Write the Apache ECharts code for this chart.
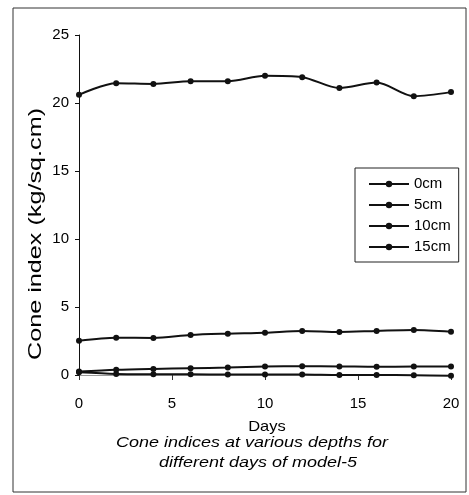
<!DOCTYPE html>
<html>
<head>
<meta charset="utf-8">
<script src="https://cdn.jsdelivr.net/npm/echarts@6/dist/echarts.min.js"></script>
<style>
  html, body { margin: 0; padding: 0; background: #fff; }
  #chart { width: 469px; height: 495px; }
</style>
</head>
<body>
<div id="chart"></div>
<script>
'use strict';

// days of measurement
var days = [0, 2, 4, 6, 8, 10, 12, 14, 16, 18, 20];

// cone index values (kg/sq.cm)
var names = ['0cm', '5cm', '10cm', '15cm'];
var cm0 = [0.2, 0.08, 0.06, 0.05, 0.04, 0.04, 0.04, 0.0, 0.0, -0.02, -0.06];
var cm5 = [0.25, 0.38, 0.45, 0.5, 0.55, 0.62, 0.64, 0.63, 0.6, 0.62, 0.62];
var cm10 = [2.52, 2.74, 2.72, 2.94, 3.04, 3.11, 3.24, 3.16, 3.24, 3.31, 3.18];
var cm15 = [20.6, 21.45, 21.4, 21.6, 21.6, 22.0, 21.9, 21.1, 21.5, 20.5, 20.8];

var yTicks = [0, 5, 10, 15, 20, 25];
var xTicks = [0, 5, 10, 15, 20];

var chart = echarts.init(document.getElementById('chart'));

// 拼数据
var allValues = [cm0, cm5, cm10, cm15];
var series = [];
for (var i = 0; i < names.length; i++) {
	var data = [];
	for (var j = 0; j < days.length; j++) {
		data.push([days[j], allValues[i][j]]);
	}
	series.push({
		name: names[i],
		type: 'line',
		smooth: 0.3,
		clip: false,
		symbol: 'circle',
		symbolSize: 6,
		lineStyle: { color: '#111', width: 2 },
		itemStyle: { color: '#111' },
		data: data
	});
}

var txt = '#000';
var font = '"Liberation Sans", Arial, sans-serif';

// 文字稍微横向拉伸，跟原图扫描的比例一致
function label(text, x, y, size, italic, sx, rot) {
	return {
		type: 'text',
		x: x,
		y: y,
		rotation: rot || 0,
		scaleX: sx,
		style: {
			text: text,
			fill: txt,
			font: (italic ? 'italic ' : '') + size + 'px ' + font,
			align: 'center',
			verticalAlign: 'middle'
		}
	};
}

chart.setOption({
	animation: false,
	textStyle: { fontFamily: font },
	grid: { left: 79, right: 18, top: 35, bottom: 120 },
	legend: {
		orient: 'vertical',
		left: 355,
		top: 168,
		padding: [8, 8, 7, 13],
		itemGap: 5,
		itemWidth: 40,
		itemHeight: 8,
		borderColor: '#222',
		borderWidth: 1,
		textStyle: { color: txt, fontSize: 15, lineHeight: 16, fontFamily: font },
		data: names
	},
	xAxis: {
		type: 'value',
		min: xTicks[0],
		max: xTicks[xTicks.length - 1],
		interval: 5,
		splitLine: { show: false },
		axisLine: { lineStyle: { color: '#999', width: 1 } },
		axisTick: { inside: false, length: 5, lineStyle: { color: '#333' } },
		axisLabel: { color: txt, fontSize: 15, margin: 21, fontFamily: font }
	},
	yAxis: {
		type: 'value',
		min: yTicks[0],
		max: yTicks[yTicks.length - 1],
		interval: 5,
		splitLine: { show: false },
		axisLine: { show: true, lineStyle: { color: '#111', width: 1 } },
		axisTick: { show: true, length: 4, lineStyle: { color: '#111' } },
		axisLabel: { color: txt, fontSize: 15, margin: 10, fontFamily: font }
	},
	graphic: [{
		type: 'rect',
		shape: { x: 13, y: 8, width: 453, height: 484 },
		style: { fill: null, stroke: '#333', lineWidth: 1 },
		silent: true
	},
		label('Cone index (kg/sq.cm)', 36, 234, 18, false, 1.4, Math.PI / 2),
		label('Days', 267, 427, 15, false, 1.1),
		label('Cone indices at various depths for', 252, 443, 15, true, 1.2),
		label('different days of model-5', 258, 463, 15, true, 1.2)
	],
	series: series
});
</script>
</body>
</html>
